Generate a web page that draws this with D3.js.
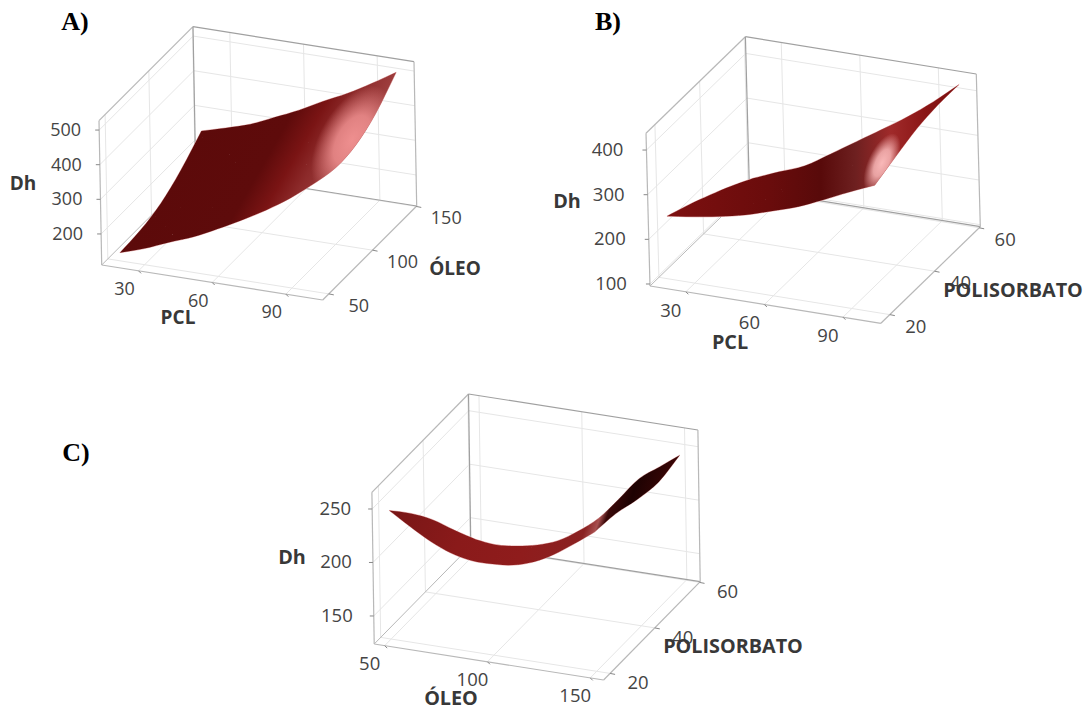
<!DOCTYPE html>
<html>
<head>
<meta charset="utf-8">
<script src="https://cdn.jsdelivr.net/npm/d3@7"></script>
<style>
  html, body { margin: 0; background: #fff; }
  svg { display: block; }
  text { font-family: "Open Sans", "Noto Sans", sans-serif; }
  .tick-label { fill: #444; }
  .axis-title { font-weight: 700; fill: #383838; }
  .panel-label { font-family: "Liberation Serif", serif; font-size: 26px; font-weight: 700; fill: #000; }
</style>
</head>
<body>
<div id="chart"></div>
<script>
const width = 1091, height = 711;

// axis ticks
const pclTicks = [30, 60, 90];
const oleoTicks = [50, 100, 150];
const polisorbatoTicks = [20, 40, 60];
const dhTicksA = [200, 300, 400, 500];
const dhTicksB = [100, 200, 300, 400];
const dhTicksC = [150, 200, 250];

// surface A: Dh over PCL (columns) and OLEO (rows)
const pclA = [20, 30, 40, 50, 60, 70, 80, 90, 100];
const oleoA = [50, 74, 97, 120, 144];
const dhA = [
  [134, 157, 186, 213, 247, 284, 324, 370, 424],
  [140, 159, 185, 209, 240, 273, 311, 355, 408],
  [158, 176, 200, 223, 252, 285, 321, 363, 415],
  [195, 212, 235, 261, 290, 324, 359, 400, 448],
  [248, 268, 290, 321, 353, 390, 424, 464, 507]
];

// surface B: Dh over PCL (columns) and POLISORBATO (rows)
const pclB = [20, 30, 40, 50, 60, 70, 80, 90, 100];
const polisorbatoB = [20, 29.5, 39, 48.5, 58];
const dhB = [
  [236, 244, 254, 267, 285, 304, 329, 356, 381],
  [215, 224, 235, 250, 272, 298, 328, 363, 399],
  [191, 202, 215, 235, 261, 292, 327, 370, 415],
  [165, 181, 199, 226, 259, 292, 330, 373, 422],
  [136, 160, 183, 219, 256, 293, 331, 374, 422]
];

// surface C: Dh over OLEO (columns) and POLISORBATO (rows)
const oleoC = [50, 60, 70, 80, 90, 100, 110, 120, 130, 140, 150];
const polisorbatoC = [20, 29.5, 39, 48.5, 58];
const dhC = [
  [244, 232, 221, 213, 209, 209, 211, 217, 227, 240, 254],
  [221, 210, 201, 195, 192, 193, 196, 204, 219, 235, 251],
  [195, 186, 180, 177, 177, 180, 186, 197, 214, 231, 244],
  [165, 160, 158, 158, 162, 168, 179, 194, 213, 230, 240],
  [136, 134, 136, 140, 147, 159, 174, 195, 217, 231, 245]
];

const panels = [
  {
    label: "A)", labelPos: [75, 30], tickSize: 18, titleSize: 19,
    xs: pclA, ys: oleoA, dh: dhA,
    xTicks: pclTicks, yTicks: oleoTicks, zTicks: dhTicksA,
    xDomain: [15, 105], yDomain: [43, 150.5], zDomain: [110.4, 527],
    origin: [101.7, 265], ux: [221, 35], uy: [94, -94], uz: [-2.7, -144.3],
    xOff: [-14, 24], yOff: [30, 18], zOff: -18,
    xTitle: ["PCL", 178, 324], yTitle: ["ÓLEO", 455, 275], zTitle: ["Dh", 23, 190],
    base: { from: [120, 252], to: [254, 329], stops: [[0, "#5c0a0a"], [0.52, "#5e0b0b"], [0.675, "#7a1414"], [0.8, "#8c2a2a"], [1, "#a04040"]] },
    glow: { c: [352, 140], r: [60, 32], rot: 120, color: "#ee8f8f" }
  },
  {
    label: "B)", labelPos: [608, 30], tickSize: 18.5, titleSize: 19.8,
    xs: pclB, ys: polisorbatoB, dh: dhB,
    xTicks: pclTicks, yTicks: polisorbatoTicks, zTicks: dhTicksB,
    xDomain: [16.3, 104.5], yDomain: [16, 60.5], zDomain: [95.5, 437.5],
    origin: [650, 286], ux: [230.9, 37.3], uy: [99.4, -96.6], uz: [-4, -152.7],
    xOff: [-15, 25], yOff: [26, 18], zOff: -23,
    xTitle: ["PCL", 730, 349], yTitle: ["POLISORBATO", 1013, 297], zTitle: ["Dh", 567, 208],
    base: { from: [666, 200], to: [958, 200], stops: [[0, "#7d1010"], [0.35, "#6a0c0c"], [0.53, "#580a0a"], [0.65, "#6e2020"], [0.77, "#a02a2a"], [0.89, "#8a1515"], [1, "#7a1010"]] },
    glow: { c: [882, 163], r: [32, 14], rot: 115, color: "#f9b8b8" }
  },
  {
    label: "C)", labelPos: [76, 461], tickSize: 18.5, titleSize: 19.8,
    xs: oleoC, ys: polisorbatoC, dh: dhC,
    xTicks: oleoTicks, yTicks: polisorbatoTicks, zTicks: dhTicksC,
    xDomain: [44.9, 156.5], yDomain: [17.1, 60.3], zDomain: [123.8, 265.6],
    origin: [374.2, 644], ux: [229.4, 36], uy: [96.6, -98.3], uz: [-2.3, -151.7],
    xOff: [-15, 24], yOff: [28, 16], zOff: -21,
    xTitle: ["ÓLEO", 451, 704.5], yTitle: ["POLISORBATO", 733, 653], zTitle: ["Dh", 292, 564],
    base: { from: [389, 511], to: [628, 597], stops: [[0, "#781616"], [0.3, "#8a1a1a"], [0.55, "#8f1c1c"], [0.75, "#8a2222"], [0.79, "#a85050"], [0.815, "#3a0808"], [0.88, "#1e0202"], [1, "#3a0606"]] },
    glow: null
  }
];

const svg = d3.select("#chart")
  .append("svg")
  .attr("width", width)
  .attr("height", height)
  .attr("viewBox", [0, 0, width, height]);

const defs = svg.append("defs");

panels.forEach((p, i) => drawPanel(p, i));

// catmull-rom through four points, same idea as d3.curveCatmullRom
function spline(a, b, c, d, t) {
  return [0, 1].map(k => 0.5 * (2 * b[k] + (c[k] - a[k]) * t
    + (2 * a[k] - 5 * b[k] + 4 * c[k] - d[k]) * t * t
    + (3 * b[k] - a[k] - 3 * c[k] + d[k]) * t * t * t));
}

// smooths a run of screen points, keeps the given ones
function smoothRun(pts, steps) {
  const out = [];
  for (let i = 0; i < pts.length - 1; i++) {
    const a = pts[Math.max(i - 1, 0)], b = pts[i], c = pts[i + 1], d = pts[Math.min(i + 2, pts.length - 1)];
    for (let s = 0; s < steps; s++) out.push(spline(a, b, c, d, s / steps));
  }
  out.push(pts[pts.length - 1]);
  return out;
}

function drawPanel(p, i) {
  // each data axis maps onto 0..1 along one edge of the box
  const sx = d3.scaleLinear().domain(p.xDomain).range([0, 1]);
  const sy = d3.scaleLinear().domain(p.yDomain).range([0, 1]);
  const sz = d3.scaleLinear().domain(p.zDomain).range([0, 1]);

  const project = (x, y, z) => {
    const a = sx(x), b = sy(y), c = sz(z);
    return [
      p.origin[0] + p.ux[0] * a + p.uy[0] * b + p.uz[0] * c,
      p.origin[1] + p.ux[1] * a + p.uy[1] * b + p.uz[1] * c
    ];
  };

  const [x0, x1] = p.xDomain, [y0, y1] = p.yDomain, [z0, z1] = p.zDomain;
  const g = svg.append("g");

  const seg = (a, b, color, w) => g.append("line")
    .attr("x1", a[0]).attr("y1", a[1])
    .attr("x2", b[0]).attr("y2", b[1])
    .attr("stroke", color)
    .attr("stroke-width", w);

  // grid on walls and floor
  const gridColor = "#e6e6e6";
  p.xTicks.forEach(t => {
    seg(project(t, y0, z0), project(t, y1, z0), gridColor, 1);
    seg(project(t, y1, z0), project(t, y1, z1), gridColor, 1);
  });
  p.yTicks.forEach(t => {
    seg(project(x0, t, z0), project(x1, t, z0), gridColor, 1);
    seg(project(x0, t, z0), project(x0, t, z1), gridColor, 1);
  });
  p.zTicks.forEach(t => {
    seg(project(x0, y0, t), project(x0, y1, t), gridColor, 1);
    seg(project(x0, y1, t), project(x1, y1, t), gridColor, 1);
  });

  // box edges
  const edge = "#b8b8b8", edgeDark = "#a0a0a0";
  seg(project(x0, y0, z0), project(x1, y0, z0), edge, 1.2);
  seg(project(x1, y0, z0), project(x1, y1, z0), edge, 1.2);
  seg(project(x0, y0, z0), project(x0, y1, z0), edge, 1);
  seg(project(x0, y1, z0), project(x1, y1, z0), edgeDark, 1.2);
  seg(project(x0, y0, z0), project(x0, y0, z1), edge, 1.2);
  seg(project(x0, y0, z1), project(x0, y1, z1), edge, 1.2);
  seg(project(x0, y1, z0), project(x0, y1, z1), edgeDark, 1.2);
  seg(project(x0, y1, z1), project(x1, y1, z1), edgeDark, 1.2);
  seg(project(x1, y1, z0), project(x1, y1, z1), edge, 1.2);

  // ticks and tick labels
  p.xTicks.forEach(t => {
    const q = project(t, y0, z0);
    seg(q, [q[0] + 2.5, q[1] + 2.5], "#888", 1);
    g.append("text").attr("class", "tick-label").style("font-size", p.tickSize + "px")
      .attr("x", q[0] + p.xOff[0]).attr("y", q[1] + p.xOff[1])
      .attr("text-anchor", "middle").text(t);
  });
  p.yTicks.forEach(t => {
    const q = project(x1, t, z0);
    seg(q, [q[0] + 5, q[1] + 1], "#888", 1);
    g.append("text").attr("class", "tick-label").style("font-size", p.tickSize + "px")
      .attr("x", q[0] + p.yOff[0]).attr("y", q[1] + p.yOff[1])
      .attr("text-anchor", "middle").text(t);
  });
  p.zTicks.forEach(t => {
    const q = project(x0, y0, t);
    seg(q, [q[0] - 4, q[1]], "#888", 1);
    g.append("text").attr("class", "tick-label").style("font-size", p.tickSize + "px")
      .attr("x", q[0] + p.zOff).attr("y", q[1] + 6)
      .attr("text-anchor", "end").text(t);
  });

  // surface paint: a base ramp plus an optional soft highlight
  const baseId = "base" + i, glowId = "glow" + i;
  const base = defs.append("linearGradient").attr("id", baseId)
    .attr("gradientUnits", "userSpaceOnUse")
    .attr("x1", p.base.from[0]).attr("y1", p.base.from[1])
    .attr("x2", p.base.to[0]).attr("y2", p.base.to[1]);
  p.base.stops.forEach(s => base.append("stop").attr("offset", s[0]).attr("stop-color", s[1]));

  // project the grid, then smooth it along columns and along rows for drawing
  const steps = 4;
  const grid = p.ys.map((y, r) => smoothRun(p.xs.map((x, c) => project(x, y, p.dh[r][c])), steps));
  const nCols = grid[0].length;
  const byCol = d3.range(nCols).map(c => smoothRun(grid.map(row => row[c]), steps));
  const nRows = byCol[0].length;

  const line = d3.line();
  const quads = [];
  for (let r = 0; r < nRows - 1; r++) {
    for (let c = 0; c < nCols - 1; c++) {
      quads.push(line([byCol[c][r], byCol[c + 1][r], byCol[c + 1][r + 1], byCol[c][r + 1]]) + "Z");
    }
  }

  // pale rim along the outer edge of the surface
  const rim = [
    ...byCol.map(col => col[0]),
    ...byCol[nCols - 1],
    ...byCol.map(col => col[nRows - 1]).reverse(),
    ...byCol[0].slice().reverse()
  ];
  g.append("path")
    .attr("d", line(rim) + "Z")
    .attr("fill", "none")
    .attr("stroke", "#e8b0b0")
    .attr("stroke-width", 1)
    .attr("stroke-linejoin", "round");

  g.append("path")
    .attr("d", quads.join(""))
    .attr("fill", `url(#${baseId})`);

  if (p.glow) {
    const glow = defs.append("radialGradient").attr("id", glowId)
      .attr("gradientUnits", "userSpaceOnUse")
      .attr("cx", 0).attr("cy", 0).attr("r", 1)
      .attr("gradientTransform", `translate(${p.glow.c}) rotate(${p.glow.rot}) scale(${p.glow.r})`);
    glow.append("stop").attr("offset", 0).attr("stop-color", p.glow.color).attr("stop-opacity", 1);
    glow.append("stop").attr("offset", 0.45).attr("stop-color", p.glow.color).attr("stop-opacity", 0.85);
    glow.append("stop").attr("offset", 1).attr("stop-color", p.glow.color).attr("stop-opacity", 0);
    g.append("path")
      .attr("d", quads.join(""))
      .attr("fill", `url(#${glowId})`);
  }

  // titles
  [p.xTitle, p.yTitle, p.zTitle].forEach(t => {
    g.append("text").attr("class", "axis-title").style("font-size", p.titleSize + "px")
      .attr("x", t[1]).attr("y", t[2])
      .attr("text-anchor", "middle").text(t[0]);
  });

  svg.append("text").attr("class", "panel-label")
    .attr("x", p.labelPos[0]).attr("y", p.labelPos[1])
    .attr("text-anchor", "middle").text(p.label);
}
</script>
</body>
</html>
